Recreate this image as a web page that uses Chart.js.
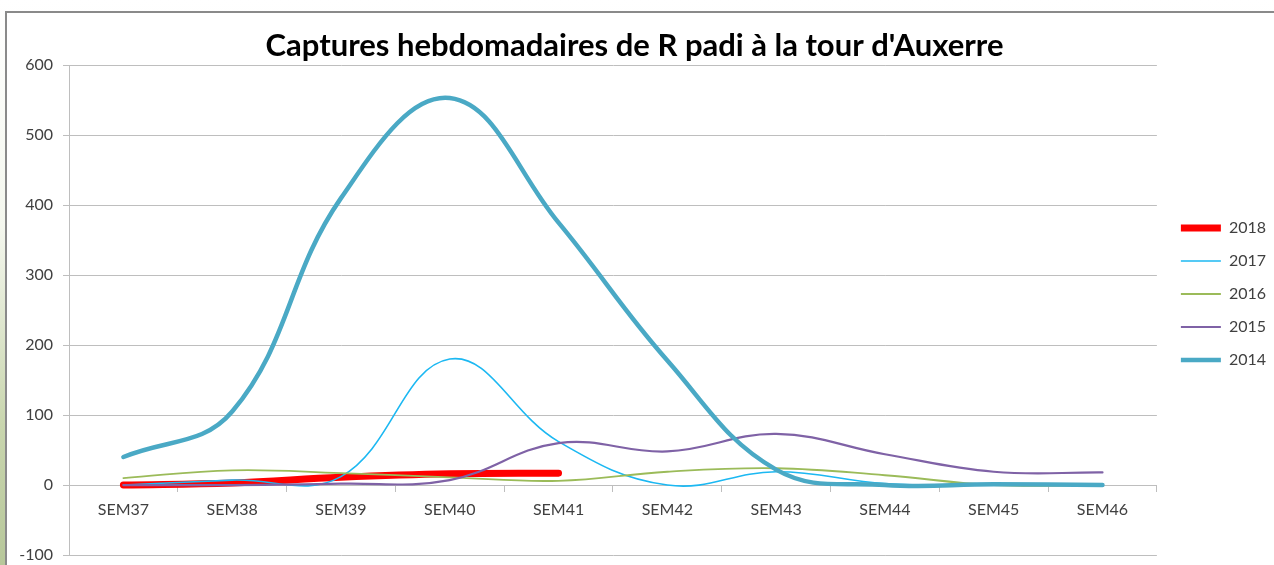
<!DOCTYPE html>
<html>
<head>
<meta charset="utf-8">
<script src="https://cdn.jsdelivr.net/npm/chart.js@4"></script>
<style>
  html, body { margin: 0; padding: 0; width: 1274px; height: 565px; overflow: hidden; }
  body {
    background: linear-gradient(180deg, #ffffff 0%, #f4f7ee 40%, #c9d6ae 75%, #b7c79a 100%);
  }
  #frame {
    position: absolute; left: 5px; top: 11px; width: 1280px; height: 600px;
    background: #fff; border-top: 2px solid #8a8a8a; border-left: 2px solid #8a8a8a;
  }
  #wrap { position: absolute; left: 0; top: 0; width: 1274px; height: 565px; }
</style>
</head>
<body>
<div id="frame"></div>
<div id="wrap"><canvas id="chart"></canvas></div>
<script>
// données
const weeks = ['SEM37', 'SEM38', 'SEM39', 'SEM40', 'SEM41', 'SEM42', 'SEM43', 'SEM44', 'SEM45', 'SEM46'];
const y2018 = [0, 3, 11, 16, 17, null, null, null, null, null];
const y2017 = [0, 7, 12, 180, 62, 0, 19, 2, 0, 0];
const y2016 = [10, 21, 17, 11, 6, 19, 24, 14, 0, 0];
const y2015 = [0, 0, 2, 7, 60, 48, 73, 44, 19, 18];
const y2014 = [40, 105, 410, 553, 375, 178, 22, 0, 1, 0];
const yTicks = [-100, 0, 100, 200, 300, 400, 500, 600];

const grey = '#bebebe';
const txt = '#404040';
const fontFam = 'Lato, "Liberation Sans", sans-serif';

function serie(label, data, color, width, order) {
    return {
        label: label,
        data: data,
        borderColor: color,
        backgroundColor: color,
        borderWidth: width,
        pointRadius: 0,
        pointHoverRadius: 0,
        tension: 0.4,
        fill: false,
        spanGaps: false,
        order: order,
        borderCapStyle: 'round'
    };
}

// petit décalage de la légende pour coller à l'original
const legendShift = {
    id: 'legendShift',
    afterLayout(chart) {
        const lg = chart.legend;
        lg.left += 7; lg.right += 7;
        lg.top += 8; lg.bottom += 8;
    }
};

const ctx = document.getElementById('chart');
new Chart(ctx.getContext('2d'), {
    type: 'line',
    data: {
        labels: weeks,
        datasets: [
            serie('2018', y2018, '#ff0000', 7, 5),
            serie('2017', y2017, '#1cb8f2', 1.6, 4),
            serie('2016', y2016, '#9bbb59', 1.8, 3),
            serie('2015', y2015, '#7f62a6', 2.2, 2),
            serie('2014', y2014, '#4aa9c5', 4.5, 1)
        ]
    },
    plugins: [legendShift],
    options: {
        responsive: true,
        maintainAspectRatio: false,
        animation: false,
        layout: { padding: { left: 0, right: 5, top: 17, bottom: 10 } },
        plugins: {
            title: {
                display: true,
                text: "Captures hebdomadaires de R padi à la tour d'Auxerre",
                color: '#000',
                font: { family: fontFam, size: 31, weight: 'bold' },
                padding: { top: 10, bottom: 1 }
            },
            legend: {
                position: 'right',
                labels: {
                    usePointStyle: true,
                    pointStyle: 'line',
                    pointStyleWidth: 40,
                    boxHeight: 16,
                    padding: 17,
                    color: txt,
                    font: { family: fontFam, size: 16 },
                    sort: (a, b) => a.datasetIndex - b.datasetIndex
                }
            },
            tooltip: { enabled: false }
        },
        scales: {
            x: {
                type: 'category',
                position: { y: 0 },
                offset: true,
                grid: { offset: true, drawOnChartArea: false, drawTicks: true, tickLength: 6, color: grey },
                border: { color: grey, width: 1 },
                ticks: { color: txt, font: { family: fontFam, size: 16 }, padding: 9, maxRotation: 0, autoSkip: false }
            },
            y: {
                min: -100,
                max: 600,
                afterBuildTicks: (s) => { s.ticks = yTicks.map(v => ({ value: v })); },
                afterFit: (s) => { s.width = 69; s.paddingTop = 0; s.paddingBottom = 0; },
                grid: { color: grey, tickLength: 6, lineWidth: 1 },
                border: { color: grey, width: 1 },
                ticks: { color: txt, font: { family: fontFam, size: 16 }, padding: 10 }
            }
        }
    }
});
</script>
</body>
</html>
